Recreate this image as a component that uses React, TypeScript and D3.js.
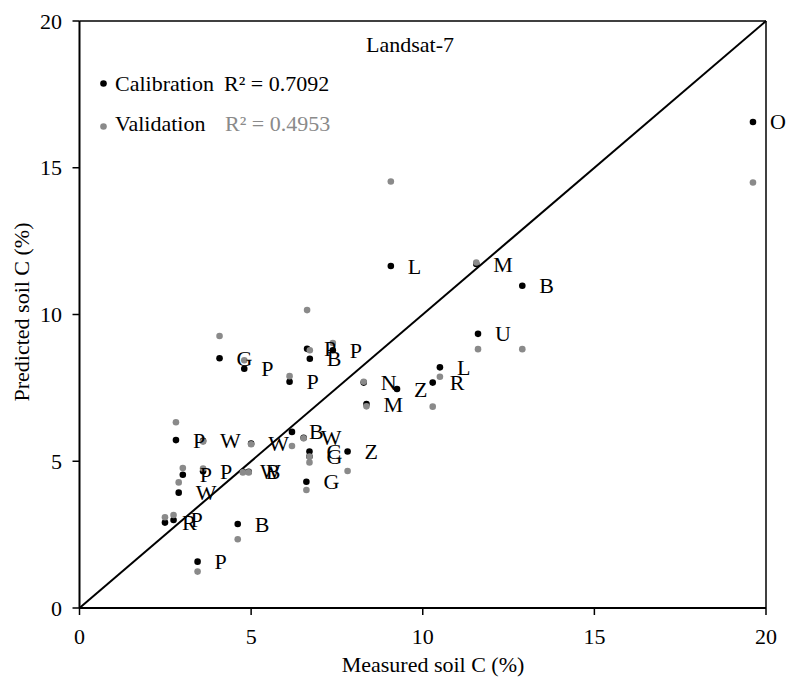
import React from "react";
import * as d3 from "d3";

// Soil carbon samples: measured value, calibration prediction, validation prediction, site code
const measured = [12.9, 19.62, 9.07, 11.56, 11.61, 10.5, 10.29, 9.25, 8.28, 8.36, 4.08, 4.8, 6.63, 6.71, 7.38, 6.12, 2.81, 3.6, 5.0, 3.01, 3.6, 2.89, 4.76, 4.93, 6.19, 6.53, 6.7, 6.7, 7.81, 6.61, 2.49, 2.74, 4.61, 3.44];
const calibration = [10.98, 16.56, 11.65, 11.72, 9.34, 8.2, 7.68, 7.46, 7.68, 6.95, 8.51, 8.15, 8.83, 8.49, 8.78, 7.71, 5.72, 5.7, 5.6, 4.54, 4.66, 3.93, 4.64, 4.64, 6.0, 5.8, 5.33, 5.16, 5.33, 4.3, 2.91, 3.0, 2.86, 1.58];
const validation: (number | null)[] = [8.82, 14.5, 14.53, 11.77, 8.82, 7.88, 6.86, null, 7.71, 6.87, 9.27, 8.44, 10.15, 8.78, 9.03, 7.9, 6.33, 5.67, 5.58, 4.77, 4.75, 4.28, 4.62, 4.62, 5.52, 5.78, 5.16, 4.96, 4.67, 4.02, 3.09, 3.17, 2.34, 1.24];
const siteCodes = ["B", "O", "L", "M", "U", "L", "R", "Z", "N", "M", "G", "P", "P", "B", "P", "P", "P", "W", "W", "P", "P", "W", "W", "B", "B", "W", "C", "G", "Z", "G", "R", "P", "B", "P"];

const axisTicks = [0, 5, 10, 15, 20];

const W = 789;
const H = 682;
const FONT = "'Liberation Serif', 'Times New Roman', serif";
const GREY = "#8a8a8a";

export default function App() {
  const x = d3.scaleLinear().domain([0, 20]).range([79.5, 766]);
  const y = d3.scaleLinear().domain([0, 20]).range([608, 21]);
  const diag = d3.line<number>().x((v) => x(v)).y((v) => y(v))([0, 20]) || "";

  return (
    <svg
      width={W}
      height={H}
      style={{ position: "absolute", left: 0, top: 0, background: "#fff" }}
      fontFamily={FONT}
    >
      <rect width={W} height={H} fill="#fff" />
      {/* frame */}
      <line x1={x(0)} x2={x(20)} y1={y(20)} y2={y(20)} stroke="#000" strokeWidth={1.5} />
      <line x1={x(20)} x2={x(20)} y1={y(0)} y2={y(20)} stroke="#000" strokeWidth={1.5} />
      <line x1={x(0)} x2={x(0)} y1={y(0)} y2={y(20)} stroke="#000" strokeWidth={2} />
      <line x1={x(0)} x2={x(20)} y1={y(0)} y2={y(0)} stroke="#000" strokeWidth={2} />

      {/* ticks */}
      {axisTicks.map((t) => (
        <g key={"x" + t}>
          <line x1={x(t)} x2={x(t)} y1={y(0)} y2={y(0) + 7} stroke="#000" strokeWidth={1.5} />
          <text x={x(t)} y={644} fontSize={22} textAnchor="middle" fill="#000">
            {t}
          </text>
        </g>
      ))}
      {axisTicks.map((t) => (
        <g key={"y" + t}>
          <line x1={x(0) - 7} x2={x(0)} y1={y(t)} y2={y(t)} stroke="#000" strokeWidth={1.5} />
          <text x={62} y={y(t) + 7.5} fontSize={22} textAnchor="end" fill="#000">
            {t}
          </text>
        </g>
      ))}

      {/* 1:1 line */}
      <path d={diag} stroke="#000" strokeWidth={2} fill="none" />

      {/* calibration points */}
      {measured.map((m, i) => (
        <circle key={"c" + i} cx={x(m)} cy={y(calibration[i])} r={3.3} fill="#000" />
      ))}
      {/* validation points */}
      {measured.map((m, i) =>
        validation[i] == null ? null : (
          <circle key={"v" + i} cx={x(m)} cy={y(validation[i] as number)} r={3.3} fill={GREY} />
        )
      )}
      {/* site codes */}
      {measured.map((m, i) => (
        <text key={"t" + i} x={x(m) + 17} y={y(calibration[i]) + 7.5} fontSize={22} fill="#000">
          {siteCodes[i]}
        </text>
      ))}

      {/* legend */}
      <text x={366} y={52} fontSize={22} fill="#000">Landsat-7</text>
      <circle cx={103.5} cy={83.5} r={3.3} fill="#000" />
      <text x={115} y={91} fontSize={22} fill="#000">Calibration</text>
      <text x={224} y={91} fontSize={22} fill="#000">R² = 0.7092</text>
      <circle cx={103.5} cy={126.5} r={3.3} fill={GREY} />
      <text x={115} y={131} fontSize={22} fill="#000">Validation</text>
      <text x={225} y={131} fontSize={22} fill={GREY}>R² = 0.4953</text>

      {/* axis titles */}
      <text x={433} y={672} fontSize={22} textAnchor="middle" fill="#000">
        Measured soil C (%)
      </text>
      <text
        transform={`translate(29, ${312}) rotate(-90)`}
        fontSize={22}
        textAnchor="middle"
        fill="#000"
      >
        Predicted soil C (%)
      </text>
    </svg>
  );
}
